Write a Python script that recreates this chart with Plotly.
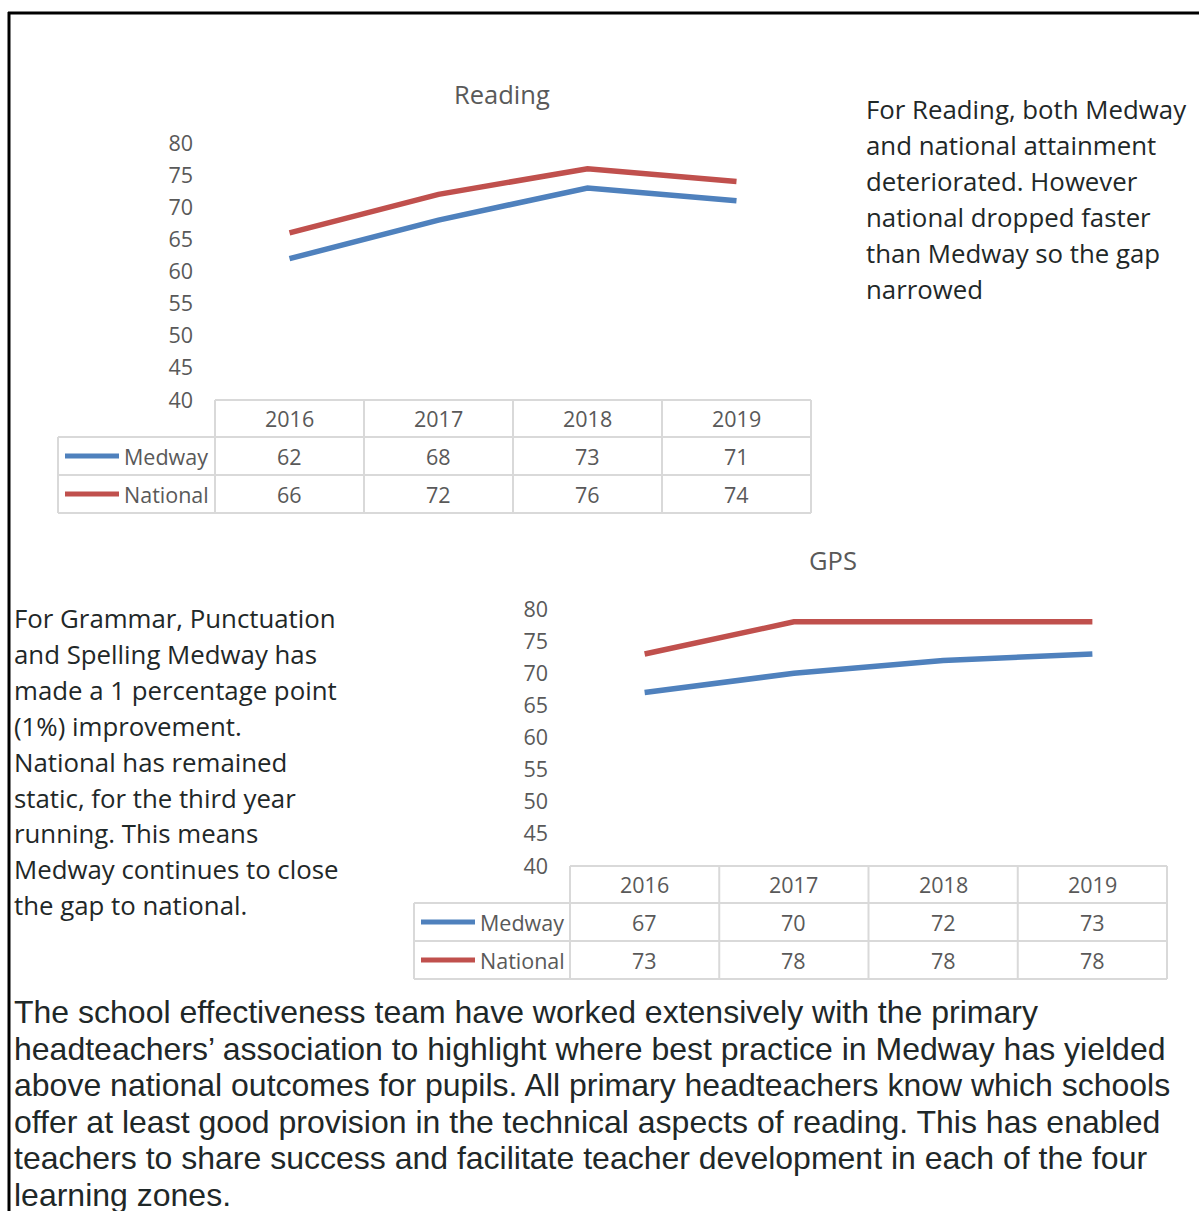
import plotly.graph_objects as go

W, H = 1199, 1211

# ---------------- data ----------------
years = ["2016", "2017", "2018", "2019"]
series_names = ["Medway", "National"]
reading_medway = [62, 68, 73, 71]
reading_national = [66, 72, 76, 74]
gps_medway = [67, 70, 72, 73]
gps_national = [73, 78, 78, 78]
y_ticks = [40, 45, 50, 55, 60, 65, 70, 75, 80]

reading_note = ["For Reading, both Medway", "and national attainment", "deteriorated. However",
                "national dropped faster", "than Medway so the gap", "narrowed"]
gps_note = ["For Grammar, Punctuation", "and Spelling Medway has", "made a 1 percentage point",
            "(1%) improvement.", "National has remained", "static, for the third year",
            "running. This means", "Medway continues to close", "the gap to national."]
bottom_note = ["The school effectiveness team have worked extensively with the primary",
               "headteachers\u2019 association to highlight where best practice in Medway has yielded",
               "above national outcomes for pupils. All primary headteachers know which schools",
               "offer at least good provision in the technical aspects of reading. This has enabled",
               "teachers to share success and facilitate teacher development in each of the four",
               "learning zones."]

# ---------------- style ----------------
COLORS = ["#4F81BD", "#C0504D"]
GREY = "#595959"
GRID = "#D9D9D9"
TEXT = "#1f2828"
FONT = "Open Sans"
SMALL = 21.5


def px(x):
    return x / W


def py(y):
    return 1 - y / H


panels = [
    dict(title="Reading", ax="", left=215, right=811, top=143, bottom=400, leg_left=58,
         header_bottom=437, row_h=38, title_x=502, title_y=94,
         data=[reading_medway, reading_national]),
    dict(title="GPS", ax="2", left=570, right=1167, top=609, bottom=866, leg_left=414,
         header_bottom=903, row_h=38, title_x=833, title_y=560,
         data=[gps_medway, gps_national]),
]

fig = go.Figure()
shapes = []
annotations = []
layout_axes = {}

for p in panels:
    ax = p["ax"]
    xname = "x" + ax
    yname = "y" + ax
    dom_w = p["right"] - p["left"]
    xdom = xname + " domain"

    for name, vals, col in zip(series_names, p["data"], COLORS):
        fig.add_trace(go.Scatter(x=years, y=vals, mode="lines", name=name,
                                 line=dict(color=col, width=5.5),
                                 xaxis=xname, yaxis=yname, showlegend=False,
                                 hoverinfo="skip", cliponaxis=False))

    layout_axes["xaxis" + ax] = dict(domain=[px(p["left"]), px(p["right"])], type="category",
                                     range=[-0.5, len(years) - 0.5], showticklabels=False,
                                     showgrid=False, zeroline=False, showline=False,
                                     ticks="", anchor=yname, fixedrange=True)
    layout_axes["yaxis" + ax] = dict(domain=[py(p["bottom"]), py(p["top"])], range=[40, 80],
                                     tickvals=y_ticks, showgrid=False, zeroline=False,
                                     showline=False, ticks="", anchor=xname,
                                     tickfont=dict(family=FONT, size=SMALL, color=GREY),
                                     ticklabelstandoff=21, fixedrange=True)

    # title
    annotations.append(dict(text=p["title"], x=px(p["title_x"]), y=py(p["title_y"]),
                            xref="paper", yref="paper", xanchor="center", yanchor="middle",
                            showarrow=False, font=dict(family=FONT, size=25.5, color=GREY)))

    # data table
    hb = p["header_bottom"]
    rh = p["row_h"]
    tbl_bottom = hb + 2 * rh
    leg_frac = -(p["left"] - p["leg_left"]) / dom_w
    line = dict(color=GRID, width=2)
    shapes.append(dict(type="line", xref=xdom, yref="paper", x0=0, x1=1,
                       y0=py(p["bottom"]), y1=py(p["bottom"]), line=line))
    n = len(years)
    for i in range(n + 1):
        shapes.append(dict(type="line", xref=xdom, yref="paper", x0=i / n, x1=i / n,
                           y0=py(p["bottom"]), y1=py(tbl_bottom), line=line))
    shapes.append(dict(type="line", xref=xdom, yref="paper", x0=leg_frac, x1=leg_frac,
                       y0=py(hb), y1=py(tbl_bottom), line=line))
    for k in range(3):
        yy = py(hb + k * rh)
        shapes.append(dict(type="line", xref=xdom, yref="paper", x0=leg_frac, x1=1,
                           y0=yy, y1=yy, line=line))
    # header labels (category index positions on the x axis)
    for i, yr in enumerate(years):
        annotations.append(dict(text=yr, x=i, y=py((p["bottom"] + hb) / 2), xref=xname,
                                yref="paper", showarrow=False, xanchor="center",
                                yanchor="middle",
                                font=dict(family=FONT, size=SMALL, color=GREY)))
    # rows
    for r, (name, vals, col) in enumerate(zip(series_names, p["data"], COLORS)):
        yc = py(hb + rh * r + rh / 2)
        x0 = leg_frac + 7 / dom_w
        x1 = leg_frac + 61 / dom_w
        shapes.append(dict(type="line", xref=xdom, yref="paper", x0=x0, x1=x1, y0=yc, y1=yc,
                           line=dict(color=col, width=5)))
        annotations.append(dict(text=name, x=leg_frac + 64 / dom_w, y=yc, xref=xdom,
                                yref="paper", showarrow=False, xanchor="left",
                                yanchor="middle",
                                font=dict(family=FONT, size=SMALL, color=GREY)))
        for i, v in enumerate(vals):
            annotations.append(dict(text=str(v), x=i, y=yc, xref=xname, yref="paper",
                                    showarrow=False, xanchor="center", yanchor="middle",
                                    font=dict(family=FONT, size=SMALL, color=GREY)))


def add_block(lines, x, y0, step, family, size, color):
    for i, t in enumerate(lines):
        annotations.append(dict(text=t, x=px(x), y=py(y0 + i * step), xref="paper",
                                yref="paper", xanchor="left", yanchor="middle",
                                showarrow=False, align="left",
                                font=dict(family=family, size=size, color=color)))


add_block(reading_note, 864, 109, 36, FONT, 25.8, TEXT)
add_block(gps_note, 12, 618, 35.9, FONT, 25.8, TEXT)
add_block(bottom_note, 12, 1012, 36.6, "Liberation Sans", 32, TEXT)

# page frame
shapes.append(dict(type="line", xref="paper", yref="paper", x0=px(8), x1=px(1199),
                   y0=py(13), y1=py(13), line=dict(color="black", width=3)))
shapes.append(dict(type="line", xref="paper", yref="paper", x0=px(9), x1=px(9),
                   y0=py(12), y1=py(1211), line=dict(color="black", width=3)))

fig.update_layout(width=W, height=H, autosize=False,
                  margin=dict(l=0, r=0, t=0, b=0, pad=0, autoexpand=False),
                  paper_bgcolor="white", plot_bgcolor="white",
                  shapes=shapes, annotations=annotations, showlegend=False,
                  **layout_axes)

fig.write_html("out.html", config={"displayModeBar": False},
               post_script="document.body.style.margin='0';document.body.style.overflow='hidden';")
